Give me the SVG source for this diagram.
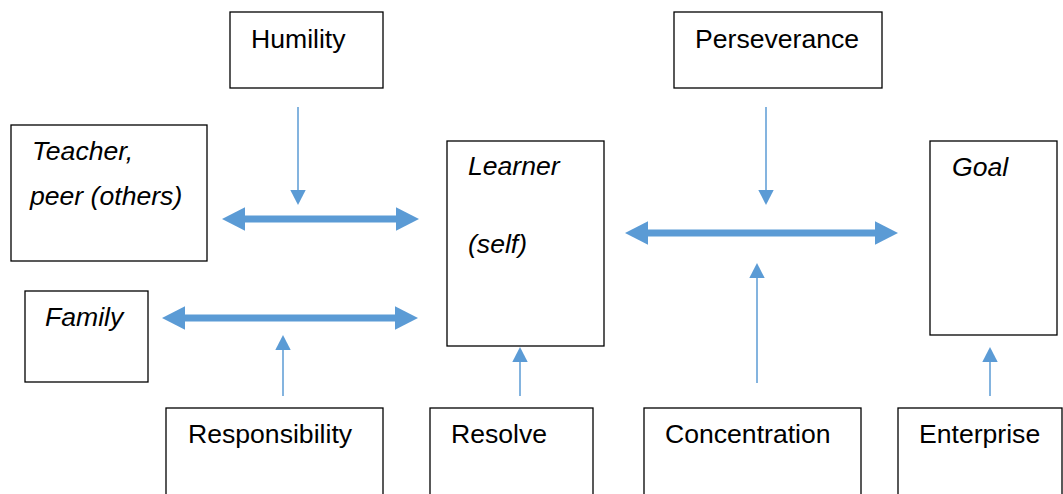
<svg xmlns="http://www.w3.org/2000/svg" width="1063" height="494" viewBox="0 0 1063 494">
<style>
.box{fill:#fff;stroke:#000;stroke-width:1.3}
.t{font-family:"Liberation Sans",Arial,sans-serif;font-size:26.6px;fill:#000}
.i{font-style:italic}
.thick{stroke:#5B9BD5;stroke-width:7;fill:none}
.thin{stroke:#5B9BD5;stroke-width:1.5;fill:none}
</style>
<defs>
<marker id="bigHead" markerUnits="userSpaceOnUse" markerWidth="24" markerHeight="24" refX="3" refY="11.7" orient="auto-start-reverse" viewBox="0 0 24 24">
<path d="M0,0 L23,11.7 L0,23.4 z" fill="#5B9BD5"/>
</marker>
<marker id="smallHead" markerUnits="userSpaceOnUse" markerWidth="16" markerHeight="16" refX="2" refY="7.7" orient="auto" viewBox="0 0 16 16">
<path d="M0,0 L15,7.7 L0,15.4 z" fill="#5B9BD5"/>
</marker>
</defs>
<rect width="1063" height="494" fill="#fff"/>
<g id="humility"><rect class="box" x="230" y="12" width="153" height="76"/><text class="t" x="251" y="48">Humility</text></g>
<g id="perseverance"><rect class="box" x="674" y="12" width="208" height="76"/><text class="t" x="695" y="48">Perseverance</text></g>
<g id="teacher"><rect class="box" x="11" y="125" width="196" height="136"/><text class="t i" x="32" y="160">Teacher,</text><text class="t i" x="30" y="205">peer (others)</text></g>
<g id="learner"><rect class="box" x="447" y="141" width="157" height="205"/><text class="t i" x="468" y="175">Learner</text><text class="t i" x="468" y="253">(self)</text></g>
<g id="goal"><rect class="box" x="930" y="141" width="127" height="194"/><text class="t i" x="952" y="176">Goal</text></g>
<g id="family"><rect class="box" x="25" y="291" width="123" height="91"/><text class="t i" x="45" y="326">Family</text></g>
<g id="responsibility"><rect class="box" x="166" y="408" width="217" height="100"/><text class="t" x="188" y="443">Responsibility</text></g>
<g id="resolve"><rect class="box" x="430" y="408" width="163" height="100"/><text class="t" x="451" y="443">Resolve</text></g>
<g id="concentration"><rect class="box" x="644" y="408" width="217" height="100"/><text class="t" x="665" y="443">Concentration</text></g>
<g id="enterprise"><rect class="box" x="898" y="408" width="164" height="100"/><text class="t" x="919" y="443">Enterprise</text></g>
<g id="connectors">
<line class="thick" x1="242" y1="219" x2="399" y2="219" marker-start="url(#bigHead)" marker-end="url(#bigHead)"/>
<line class="thick" x1="645" y1="233" x2="878" y2="233" marker-start="url(#bigHead)" marker-end="url(#bigHead)"/>
<line class="thick" x1="182" y1="318" x2="398" y2="318" marker-start="url(#bigHead)" marker-end="url(#bigHead)"/>
<line class="thin" x1="298" y1="107" x2="298" y2="192" marker-end="url(#smallHead)"/>
<line class="thin" x1="766" y1="107" x2="766" y2="192" marker-end="url(#smallHead)"/>
<line class="thin" x1="283" y1="396" x2="283" y2="348" marker-end="url(#smallHead)"/>
<line class="thin" x1="520" y1="396" x2="520" y2="360" marker-end="url(#smallHead)"/>
<line class="thin" x1="757" y1="383" x2="757" y2="276" marker-end="url(#smallHead)"/>
<line class="thin" x1="990" y1="396" x2="990" y2="360" marker-end="url(#smallHead)"/>
</g>
</svg>
